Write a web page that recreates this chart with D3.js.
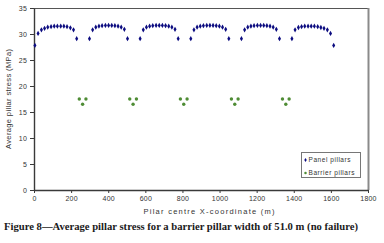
<!DOCTYPE html>
<html>
<head>
<meta charset="utf-8">
<script src="https://cdn.jsdelivr.net/npm/d3@7"></script>
<style>
  body { margin: 0; background: #fff; }
  svg { display: block; }
</style>
</head>
<body>
<div id="chart"></div>
<script>
// Panel pillar centres (m) and average stress (MPa)
const panelX = [
  5, 22, 40, 57, 74, 92, 109, 126, 144, 161, 178, 196, 213, 230,
  299, 316, 333, 350, 367, 385, 402, 419, 436, 453, 470, 487, 504,
  572, 589, 606, 623, 640, 658, 675, 692, 709, 726, 743, 760, 777,
  845, 862, 879, 896, 913, 931, 948, 965, 982, 999, 1016, 1033, 1050,
  1118, 1135, 1152, 1169, 1186, 1204, 1221, 1238, 1255, 1272, 1289, 1306, 1323,
  1390, 1407, 1425, 1442, 1459, 1477, 1494, 1511, 1529, 1546, 1563, 1581, 1598, 1615
]
const panelStress = [
  27.8, 30.1, 30.8, 31.1, 31.3, 31.4, 31.5, 31.5, 31.5, 31.5, 31.4, 31.2, 30.8, 29.1,
  29.1, 30.8, 31.3, 31.5, 31.6, 31.65, 31.65, 31.65, 31.6, 31.5, 31.3, 30.9, 29.1,
  29.1, 30.8, 31.3, 31.5, 31.6, 31.65, 31.65, 31.65, 31.6, 31.5, 31.3, 30.9, 29.1,
  29.1, 30.8, 31.3, 31.5, 31.6, 31.65, 31.65, 31.65, 31.6, 31.5, 31.3, 30.9, 29.1,
  29.1, 30.8, 31.3, 31.5, 31.6, 31.65, 31.65, 31.65, 31.6, 31.5, 31.3, 30.9, 29.1,
  29.1, 30.8, 31.25, 31.4, 31.5, 31.5, 31.5, 31.5, 31.4, 31.25, 31.1, 30.8, 30.1, 27.8
]
const barrierX = [244, 262, 280, 516, 534, 552, 789, 807, 825, 1064, 1082, 1100, 1339, 1357, 1375]
const barrierStress = [17.5, 16.5, 17.5, 17.5, 16.5, 17.5, 17.5, 16.5, 17.5, 17.5, 16.5, 17.5, 17.5, 16.5, 17.5]

const xTicks = [0, 200, 400, 600, 800, 1000, 1200, 1400, 1600, 1800]
const yTicks = [0, 5, 10, 15, 20, 25, 30, 35]
const seriesNames = ['Panel pillars', 'Barrier pillars']
const caption = 'Figure 8\u2014Average pillar stress for a barrier pillar width of 51.0 m (no failure)'

const W = 384
const H = 243
const plot = { left: 34, right: 368, top: 8, bottom: 190 }
const PANEL_COLOR = '#0c0c80'
const BARRIER_COLOR = '#4e8c34'
const AXIS_COLOR = '#3a3a3a'
const FONT = 'Liberation Sans, Arial, sans-serif'

const svg = d3.select('#chart').append('svg')
  .attr('width', W)
  .attr('height', H)

const x = d3.scaleLinear().domain([0, 1800]).range([plot.left, plot.right])
const y = d3.scaleLinear().domain([0, 35]).range([plot.bottom, plot.top])

// plot frame (top + right)
svg.append('line')
  .attr('x1', plot.left).attr('x2', plot.right + 1)
  .attr('y1', plot.top + 0.5).attr('y2', plot.top + 0.5)
  .attr('stroke', '#555').attr('stroke-width', 1)
svg.append('line')
  .attr('x1', plot.right + 0.5).attr('x2', plot.right + 0.5)
  .attr('y1', plot.top).attr('y2', plot.bottom)
  .attr('stroke', '#8a8a8a').attr('stroke-width', 2)

// axes
const xAxis = svg.append('g')
  .attr('transform', `translate(0,${plot.bottom})`)
  .call(d3.axisBottom(x).tickValues(xTicks).tickFormat(d3.format('d'))
    .tickSize(3).tickSizeOuter(0).tickPadding(3))
const yAxis = svg.append('g')
  .attr('transform', `translate(${plot.left},0)`)
  .call(d3.axisLeft(y).tickValues(yTicks).tickFormat(d3.format('d'))
    .tickSize(4).tickSizeOuter(0).tickPadding(3))

;[xAxis, yAxis].forEach(ax => {
  ax.select('.domain').attr('stroke', AXIS_COLOR).attr('stroke-width', 1.4)
  ax.selectAll('.tick line').attr('stroke', AXIS_COLOR)
  ax.selectAll('.tick text')
    .attr('fill', '#333')
    .style('font-family', FONT)
    .style('font-size', '7px')
    .style('letter-spacing', '0.2px')
})

// axis titles
svg.append('text')
  .attr('x', (plot.left + plot.right) / 2 + 8)
  .attr('y', 214)
  .attr('text-anchor', 'middle')
  .attr('textLength', 131)
  .attr('lengthAdjust', 'spacing')
  .style('font-family', FONT)
  .style('font-size', '7.5px')
  .attr('fill', '#333')
  .text('Pilar centre X-coordinate (m)')

svg.append('text')
  .attr('transform', `translate(11,${(plot.top + plot.bottom) / 2}) rotate(-90)`)
  .attr('text-anchor', 'middle')
  .attr('textLength', 100)
  .attr('lengthAdjust', 'spacing')
  .style('font-family', FONT)
  .style('font-size', '7.5px')
  .attr('fill', '#333')
  .text('Average pillar stress (MPa)')

// series
const panelData = panelX.map((v, i) => [v, panelStress[i]])
const barrierData = barrierX.map((v, i) => [v, barrierStress[i]])

svg.append('g').selectAll('path')
  .data(panelData)
  .join('path')
  .attr('transform', d => `translate(${x(d[0])},${y(d[1])})`)
  .attr('d', d3.symbol(d3.symbolDiamond, 8))
  .attr('fill', PANEL_COLOR)

svg.append('g').selectAll('circle')
  .data(barrierData)
  .join('circle')
  .attr('cx', d => x(d[0]))
  .attr('cy', d => y(d[1]))
  .attr('r', 1.7)
  .attr('fill', BARRIER_COLOR)

// legend
const legend = svg.append('g').attr('transform', 'translate(301.5,152.5)')
legend.append('rect')
  .attr('width', 59).attr('height', 25)
  .attr('fill', '#fff').attr('stroke', '#777').attr('stroke-width', 1)

const legendRows = legend.selectAll('g.row')
  .data(seriesNames)
  .join('g')
  .attr('class', 'row')
  .attr('transform', (d, i) => `translate(0,${7.5 + i * 13})`)

legendRows.append('path')
  .attr('transform', 'translate(4,0)')
  .attr('d', (d, i) => i === 0 ? d3.symbol(d3.symbolDiamond, 5)() : d3.symbol(d3.symbolCircle, 5)())
  .attr('fill', (d, i) => i === 0 ? PANEL_COLOR : BARRIER_COLOR)

legendRows.append('text')
  .attr('x', 7)
  .attr('dy', '0.35em')
  .attr('textLength', (d, i) => i === 0 ? 42 : 46)
  .attr('lengthAdjust', 'spacing')
  .style('font-family', FONT)
  .style('font-size', '6.5px')
  .attr('fill', '#333')
  .text(d => d)

// caption
svg.append('text')
  .attr('x', 4)
  .attr('y', 230)
  .attr('textLength', 354)
  .attr('lengthAdjust', 'spacingAndGlyphs')
  .style('font-family', 'Liberation Serif, Times New Roman, serif')
  .style('font-weight', 'bold')
  .style('font-size', '10.5px')
  .attr('fill', '#1a1a1a')
  .text(caption)
</script>
</body>
</html>
